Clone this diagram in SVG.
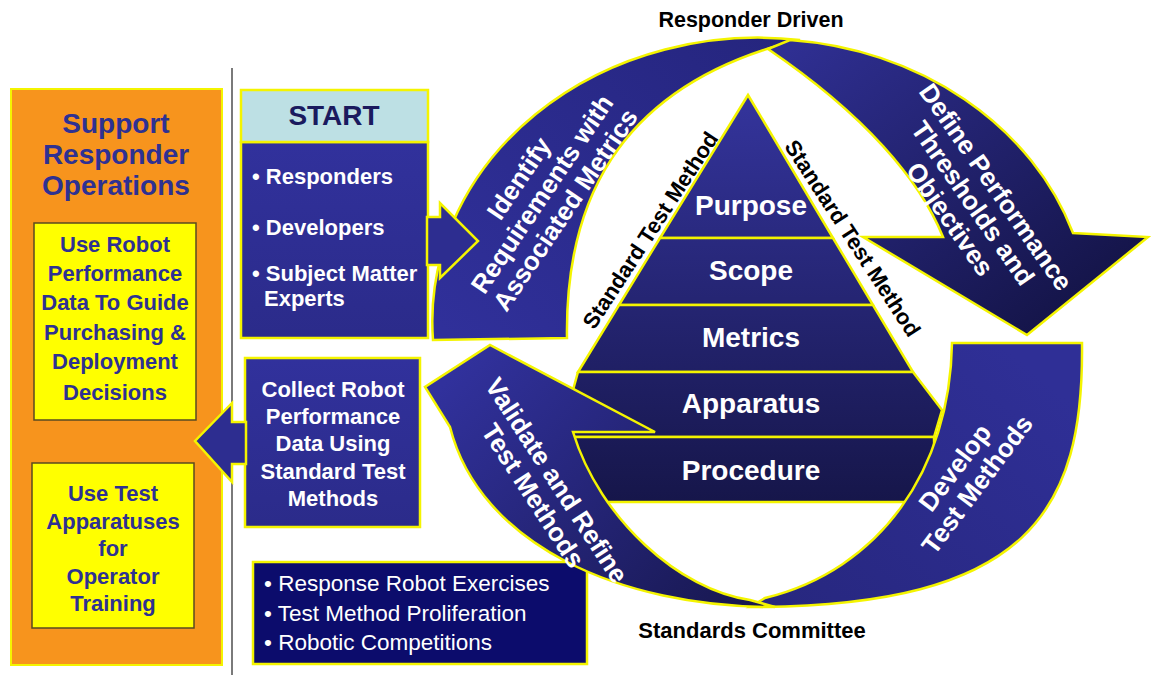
<svg xmlns="http://www.w3.org/2000/svg" width="1151" height="675" viewBox="0 0 1151 675">
<defs>
<style>
.b{font-family:"Liberation Sans",Arial,Helvetica,sans-serif;font-weight:bold}
.r{font-family:"Liberation Sans",Arial,Helvetica,sans-serif}
.w{fill:#ffffff}
.n{fill:#2e3192}
.k{fill:#000000}
.ys{stroke:#f4f400;stroke-width:2.5;stroke-linejoin:miter}
.f22{font-size:22px}
.f26{font-size:26px}
.f28{font-size:28px}
.m{text-anchor:middle}
</style>
<linearGradient id="gPyr" gradientUnits="userSpaceOnUse" x1="0" y1="95" x2="0" y2="502">
<stop offset="0" stop-color="#34349c"/><stop offset="1" stop-color="#16164a"/>
</linearGradient>
<linearGradient id="gIdent" gradientUnits="userSpaceOnUse" x1="450" y1="340" x2="780" y2="40">
<stop offset="0" stop-color="#30309a"/><stop offset="1" stop-color="#25257e"/>
</linearGradient>
<linearGradient id="gDef" gradientUnits="userSpaceOnUse" x1="800" y1="40" x2="1030" y2="335">
<stop offset="0" stop-color="#2f2f92"/><stop offset="1" stop-color="#15154a"/>
</linearGradient>
<linearGradient id="gDev" gradientUnits="userSpaceOnUse" x1="1000" y1="343" x2="780" y2="607">
<stop offset="0" stop-color="#2f2f96"/><stop offset="1" stop-color="#27277f"/>
</linearGradient>
<linearGradient id="gVal" gradientUnits="userSpaceOnUse" x1="480" y1="345" x2="760" y2="607">
<stop offset="0" stop-color="#31319c"/><stop offset="1" stop-color="#17174e"/>
</linearGradient>
<linearGradient id="gBox" x1="0" y1="0" x2="0" y2="1">
<stop offset="0" stop-color="#31319c"/><stop offset="1" stop-color="#2b2b8a"/>
</linearGradient>
</defs>
<rect x="0" y="0" width="1151" height="675" fill="#ffffff"/>

<g id="support-panel">
<rect x="11" y="89" width="211" height="576" fill="#f7941d" stroke="#f4f400" stroke-width="2"/>
<text class="b f28 n m" x="116" y="133">Support</text>
<text class="b f28 n m" x="116" y="164">Responder</text>
<text class="b f28 n m" x="116" y="195">Operations</text>
</g>
<g id="purchasing-box">
<rect x="34" y="223" width="162" height="197" fill="#ffff00" stroke="#5a4a20" stroke-width="1.5"/>
<text class="b f22 n m" x="115" y="252">Use Robot</text>
<text class="b f22 n m" x="115" y="281">Performance</text>
<text class="b f22 n m" x="115" y="310">Data To Guide</text>
<text class="b f22 n m" x="115" y="340">Purchasing &amp;</text>
<text class="b f22 n m" x="115" y="369">Deployment</text>
<text class="b f22 n m" x="115" y="400">Decisions</text>
</g>
<g id="training-box">
<rect x="32" y="463" width="162" height="165" fill="#ffff00" stroke="#5a4a20" stroke-width="1.5"/>
<text class="b f22 n m" x="113" y="501">Use Test</text>
<text class="b f22 n m" x="113" y="529">Apparatuses</text>
<text class="b f22 n m" x="113" y="556">for</text>
<text class="b f22 n m" x="113" y="584">Operator</text>
<text class="b f22 n m" x="113" y="611">Training</text>
</g>

<line x1="232" y1="68" x2="232" y2="675" stroke="#7a7a7a" stroke-width="2"/>

<g id="start">
<rect x="241" y="142" width="187" height="196" fill="url(#gBox)" class="ys"/>
<rect x="241" y="90" width="187" height="52" fill="#bde0e4" class="ys"/>
<text class="b f28 m" x="334" y="125" fill="#1a1a5e">START</text>
<text class="b f22 w" x="252" y="184">• Responders</text>
<text class="b f22 w" x="252" y="235">• Developers</text>
<text class="b f22 w" x="252" y="281">• Subject Matter</text>
<text class="b f22 w" x="264" y="306">Experts</text>
</g>

<g id="collect">
<rect x="245" y="358" width="175" height="169" fill="url(#gBox)" class="ys"/>
<text class="b f22 w m" x="333" y="397">Collect Robot</text>
<text class="b f22 w m" x="333" y="424">Performance</text>
<text class="b f22 w m" x="333" y="451">Data Using</text>
<text class="b f22 w m" x="333" y="479">Standard Test</text>
<text class="b f22 w m" x="333" y="506">Methods</text>
</g>

<g id="activities">
<rect x="253" y="562" width="334" height="102" fill="#0c0c6c" class="ys"/>
<text class="r w" x="264" y="591" font-size="22.5">• Response Robot Exercises</text>
<text class="r w" x="264" y="621" font-size="22.5">• Test Method Proliferation</text>
<text class="r w" x="264" y="650" font-size="22.5">• Robotic Competitions</text>
</g>

<g id="pyramid">
<polygon points="748,95 833,238 660,238" fill="url(#gPyr)" class="ys"/>
<polygon points="660,238 833,238 873,305 619,305" fill="url(#gPyr)" class="ys"/>
<polygon points="619,305 873,305 913,372 578,372" fill="url(#gPyr)" class="ys"/>
<polygon points="578,372 913,372 942,410 934,437 560,437" fill="url(#gPyr)" class="ys"/>
<path d="M565,437 L934,437 L935,502 L585,502 Z" fill="url(#gPyr)" class="ys"/>
<text class="b f28 w m" x="751" y="215">Purpose</text>
<text class="b f28 w m" x="751" y="280">Scope</text>
<text class="b f28 w m" x="751" y="347">Metrics</text>
<text class="b f28 w m" x="751" y="413">Apparatus</text>
<text class="b f28 w m" x="751" y="480">Procedure</text>
</g>

<g id="identify">
<path d="M433,340 A326,284 0 0 1 800,40 L770,48 C620,95 565,200 567,338 Z" fill="url(#gIdent)" class="ys"/>
<g transform="translate(542,194) rotate(-56)">
<text class="b f26 w m" x="0" y="-19">Identify</text>
<text class="b f26 w m" x="0" y="9">Requirements with</text>
<text class="b f26 w m" x="0" y="37">Associated Metrics</text>
</g>
</g>

<g id="define">
<path d="M768,49 L790,40 A326,284 0 0 1 1073,233 L1148,237 L1027,335 L863,237 L943,237 C920,180 865,115 768,49 Z" fill="url(#gDef)" class="ys"/>
<g transform="translate(973,203) rotate(55)">
<text class="b f26 w m" x="0" y="-19">Define Performance</text>
<text class="b f26 w m" x="0" y="9">Thresholds and</text>
<text class="b f26 w m" x="0" y="37">Objectives</text>
</g>
</g>

<g id="develop">
<path d="M952,343 L1082,343 C1084,510 1030,607 750,607 L765,598 C880,570 950,470 952,343 Z" fill="url(#gDev)" class="ys"/>
<g transform="translate(966,476) rotate(-53)">
<text class="b f26 w m" x="0" y="-5">Develop</text>
<text class="b f26 w m" x="0" y="23">Test Methods</text>
</g>
</g>

<g id="validate">
<path d="M775,607 C620,607 480,545 450,427 L425,387 L490,345 L655,432 L573,432 C600,520 680,590 750,600 Z" fill="url(#gVal)" class="ys"/>
<g transform="translate(545,488) rotate(57)">
<text class="b f26 w m" x="0" y="-5">Validate and Refine</text>
<text class="b f26 w m" x="0" y="23">Test Methods</text>
</g>
</g>

<g id="labels">
<text class="b k m" x="751" y="27" font-size="21.5">Responder Driven</text>
<text class="b k m" x="752" y="638" font-size="22">Standards Committee</text>
<g transform="translate(650,230) rotate(-57)"><text class="b k m" x="0" y="8" font-size="22">Standard Test Method</text></g>
<g transform="translate(853,238) rotate(57)"><text class="b k m" x="0" y="8" font-size="22">Standard Test Method</text></g>
</g>

<g id="connectors">
<polygon points="427,217 440,217 440,203 478,241 440,278 440,265 427,265" fill="#2d2d90" class="ys"/>
<polygon points="246,422 232,422 232,403 195,441 232,482 232,464 246,464" fill="#2d2d90" class="ys"/>
</g>
</svg>
